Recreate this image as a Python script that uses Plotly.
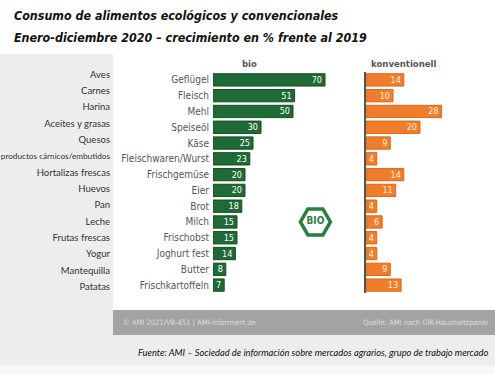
import plotly.graph_objects as go

W, H = 495, 374

# ---- data ----
categories_de = ["Geflügel", "Fleisch", "Mehl", "Speiseöl", "Käse", "Fleischwaren/Wurst",
                 "Frischgemüse", "Eier", "Brot", "Milch", "Frischobst", "Joghurt fest",
                 "Butter", "Frischkartoffeln"]
categories_es = ["Aves", "Carnes", "Harina", "Aceites y grasas", "Quesos",
                 "productos cárnicos/embutidos", "Hortalizas frescas", "Huevos", "Pan",
                 "Leche", "Frutas frescas", "Yogur", "Mantequilla", "Patatas"]
bio_values = [70, 51, 50, 30, 25, 23, 20, 20, 18, 15, 15, 14, 8, 7]
konv_values = [14, 10, 28, 20, 9, 4, 14, 11, 4, 6, 4, 4, 9, 13]

title_line1 = "Consumo de alimentos ecológicos y convencionales"
title_line2 = "Enero-diciembre 2020 – crecimiento en % frente al 2019"
header_bio = "bio"
header_konv = "konventionell"
footer_left = "© AMI 2021/VB-451 | AMI-informiert.de"
footer_right = "Quelle: AMI nach GfK-Haushaltspanel"
source_text = "Fuente: AMI – Sociedad de información sobre mercados agrarios, grupo de trabajo mercado"

GREEN = "#1f6b36"
ORANGE = "#f07d2c"
NARROW = "Liberation Sans Narrow, DejaVu Sans Condensed, sans-serif"
HUMAN = "Lato, Open Sans, sans-serif"


def px(x):
    return x / W


def py(y):
    return 1 - y / H


n = len(categories_de)
cat_range = [n - 0.5, -0.5]

# Spanish tick texts: long labels get a slightly smaller size so they stay visible
es_ticktext = [c if len(c) < 22 else '<span style="font-size:8.2px">' + c + "</span>"
               for c in categories_es]

fig = go.Figure()

fig.add_trace(go.Bar(
    x=bio_values, y=categories_de, orientation="h", xaxis="x", yaxis="y",
    marker=dict(color=GREEN, line=dict(color="#154d26", width=1)),
    text=[str(v) for v in bio_values], textposition="inside", insidetextanchor="end",
    textangle=0, constraintext="none",
    textfont=dict(family=NARROW, size=9, color="#ffffff"),
    hoverinfo="skip", showlegend=False,
))
fig.add_trace(go.Bar(
    x=konv_values, y=categories_de, orientation="h", xaxis="x2", yaxis="y2",
    marker=dict(color=ORANGE, line=dict(color="#d9691d", width=1)),
    text=[str(v) for v in konv_values], textposition="inside", insidetextanchor="end",
    textangle=0, constraintext="none",
    textfont=dict(family=NARROW, size=9, color="#fff3dc"),
    hoverinfo="skip", showlegend=False,
))
# Spanish label axis (invisible points)
fig.add_trace(go.Scatter(
    x=[0] * len(categories_es), y=categories_es, xaxis="x3", yaxis="y3",
    mode="markers", marker=dict(opacity=0), hoverinfo="skip", showlegend=False,
))
# BIO logo
fig.add_trace(go.Scatter(
    x=[64], y=["Milch"], xaxis="x", yaxis="y", mode="markers+text",
    marker=dict(symbol="hexagon2-open", size=30, color="#2a7f40",
                line=dict(width=3.5, color="#2a7f40")),
    text=["<b>BIO</b>"], textposition="middle center",
    textfont=dict(family=NARROW, size=10, color="#2a7f40"),
    hoverinfo="skip", showlegend=False, cliponaxis=False,
))

y_dom = [py(293), py(72)]
fig.update_layout(
    width=W, height=H, margin=dict(l=0, r=0, t=0, b=0, autoexpand=False),
    paper_bgcolor="#ffffff", plot_bgcolor="rgba(0,0,0,0)",
    bargap=0.22,
    xaxis=dict(domain=[px(213), px(341)], range=[0, 80], visible=False, anchor="y",
               automargin=False),
    yaxis=dict(domain=y_dom, anchor="x", type="category", categoryorder="array",
               categoryarray=categories_de, range=cat_range, automargin=False,
               showgrid=False, zeroline=False, showline=False, ticks="",
               ticklabelstandoff=3,
               tickfont=dict(family=NARROW, size=10, color="#555555")),
    xaxis2=dict(domain=[px(366), px(474)], range=[0, 40], visible=False, anchor="y2",
                automargin=False),
    yaxis2=dict(domain=y_dom, anchor="x2", type="category", categoryorder="array",
                categoryarray=categories_de, range=cat_range, automargin=False,
                showgrid=False, zeroline=False, showline=True, linecolor="#555555",
                linewidth=1.5, ticks="", showticklabels=False),
    xaxis3=dict(domain=[px(112), px(113)], range=[-1, 1], visible=False, anchor="y3",
                automargin=False),
    yaxis3=dict(domain=[py(295), py(66)], anchor="x3", type="category",
                categoryorder="array", categoryarray=categories_es, range=cat_range,
                tickmode="array", tickvals=categories_es, ticktext=es_ticktext,
                automargin=False,
                showgrid=False, zeroline=False, showline=False, ticks="",
                ticklabelstandoff=1,
                tickfont=dict(family=HUMAN, size=9.5, color="#333333")),
    shapes=[
        dict(type="rect", xref="paper", yref="paper", x0=0, x1=1, y0=py(365), y1=py(54),
             fillcolor="#ededed", line=dict(width=0), layer="below"),
        dict(type="rect", xref="paper", yref="paper", x0=0, x1=1, y0=0, y1=py(365),
             fillcolor="#f8f8f8", line=dict(width=0), layer="below"),
        dict(type="rect", xref="paper", yref="paper", x0=px(113), x1=1, y0=py(310), y1=py(54),
             fillcolor="#ffffff", line=dict(width=0), layer="below"),
        dict(type="rect", xref="paper", yref="paper", x0=px(113), x1=1, y0=py(335), y1=py(310),
             fillcolor="#a3a3a3", line=dict(width=0), layer="below"),
    ],
    annotations=[
        dict(text=title_line1, xref="paper", yref="paper", x=px(12), y=py(15),
             xanchor="left", yanchor="middle", showarrow=False,
             font=dict(family=NARROW, size=12.4, color="#111111", weight="bold", style="italic")),
        dict(text=title_line2, xref="paper", yref="paper", x=px(12), y=py(38),
             xanchor="left", yanchor="middle", showarrow=False,
             font=dict(family=NARROW, size=12.4, color="#111111", weight="bold", style="italic")),
        dict(text=header_bio, xref="paper", yref="paper", x=px(249), y=py(63),
             xanchor="center", yanchor="middle", showarrow=False,
             font=dict(family=NARROW, size=9.5, color="#555555", weight="bold")),
        dict(text=header_konv, xref="paper", yref="paper", x=px(404), y=py(63),
             xanchor="center", yanchor="middle", showarrow=False,
             font=dict(family=NARROW, size=9.5, color="#555555", weight="bold")),
        dict(text=footer_left, xref="paper", yref="paper", x=px(121), y=py(322),
             xanchor="left", yanchor="middle", showarrow=False,
             font=dict(family=NARROW, size=7.5, color="#dcdcdc")),
        dict(text=footer_right, xref="paper", yref="paper", x=px(490), y=py(322),
             xanchor="right", yanchor="middle", showarrow=False,
             font=dict(family=NARROW, size=7.5, color="#dcdcdc")),
        dict(text=source_text, xref="paper", yref="paper", x=px(136), y=py(352),
             xanchor="left", yanchor="middle", showarrow=False,
             font=dict(family=HUMAN, size=9.3, color="#111111", style="italic")),
    ],
)

fig.write_html(
    "out.html",
    config={"displayModeBar": False},
    post_script=("document.body.style.margin='0';document.body.style.padding='0';"
                 "document.body.style.overflow='hidden';"
                 "document.documentElement.style.overflow='hidden';"),
)
